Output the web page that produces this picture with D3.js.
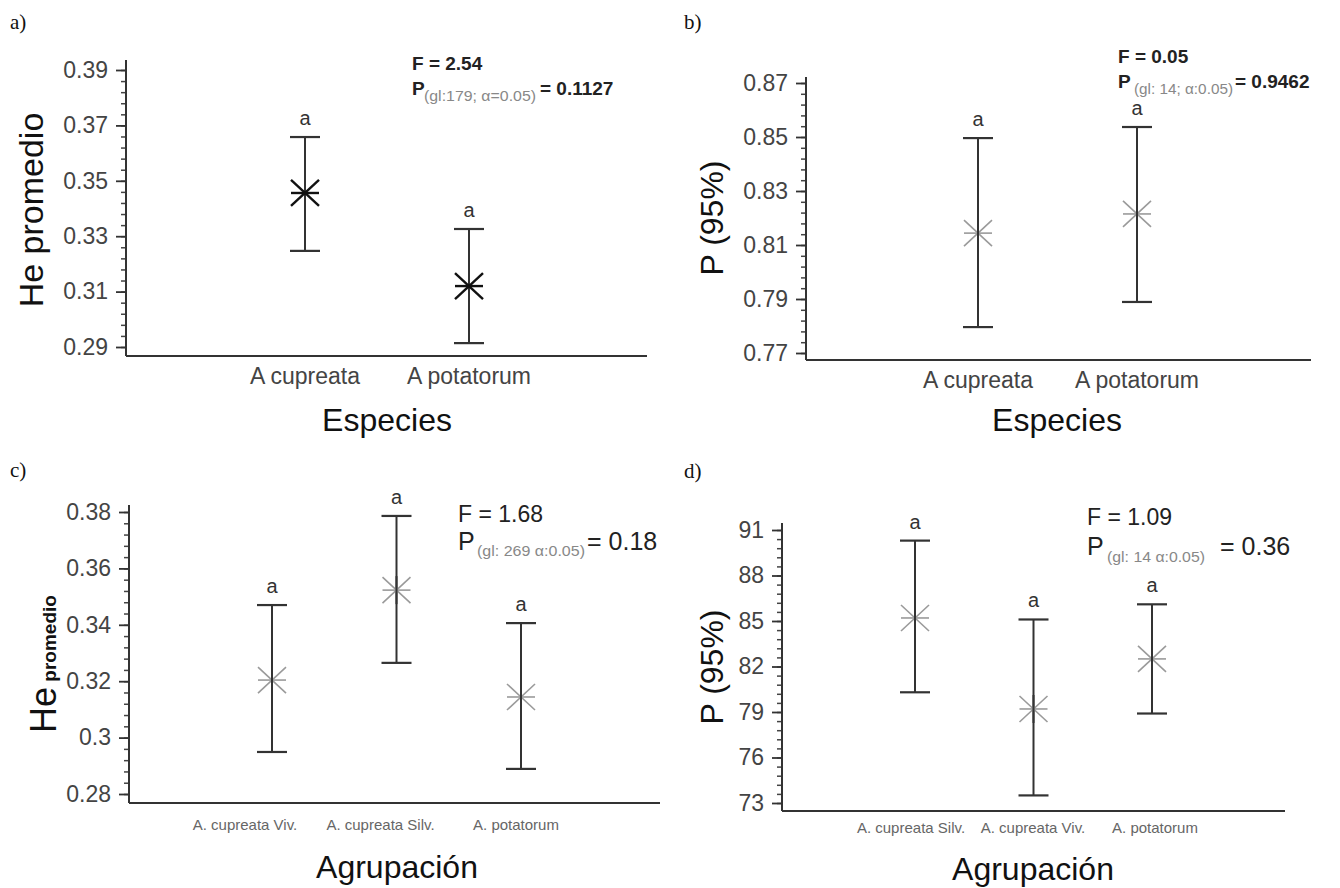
<!DOCTYPE html>
<html>
<head>
<meta charset="utf-8">
<script src="https://cdn.jsdelivr.net/npm/d3@7"></script>
<style>
  body { margin: 0; background: #fff; }
  text { font-family: 'Liberation Sans', Arial, sans-serif; }
</style>
</head>
<body>
<script>
var WIDTH = 1340, HEIGHT = 888;

// a) He promedio por especie
var speciesA = ['A cupreata', 'A potatorum'];
var heMeanA = [0.3456, 0.3120];
var heLowA = [0.3247, 0.2914];
var heHighA = [0.3658, 0.3326];
var lettersA = ['a', 'a'];
var ticksA = [0.29, 0.31, 0.33, 0.35, 0.37, 0.39];

// b) P (95%) por especie
var speciesB = ['A cupreata', 'A potatorum'];
var pMeanB = [0.8144, 0.8215];
var pLowB = [0.7796, 0.7889];
var pHighB = [0.8496, 0.8537];
var lettersB = ['a', 'a'];
var ticksB = [0.77, 0.79, 0.81, 0.83, 0.85, 0.87];

// c) He promedio por agrupacion
var groupsC = ['A. cupreata Viv.', 'A. cupreata Silv.', 'A. potatorum'];
var heMeanC = [0.3204, 0.3523, 0.3144];
var heLowC = [0.2949, 0.3265, 0.2889];
var heHighC = [0.3470, 0.3786, 0.3406];
var lettersC = ['a', 'a', 'a'];
var ticksC = [0.28, 0.3, 0.32, 0.34, 0.36, 0.38];

// d) P (95%) por agrupacion
var groupsD = ['A. cupreata Silv.', 'A. cupreata Viv.', 'A. potatorum'];
var pMeanD = [85.2, 79.2, 82.5];
var pLowD = [80.3, 73.5, 78.9];
var pHighD = [90.3, 85.1, 86.1];
var lettersD = ['a', 'a', 'a'];
var ticksD = [73, 76, 79, 82, 85, 88, 91];

var panels = [
  {
    tag: 'a)', tagX: 10, tagY: 29,
    cats: speciesA, mean: heMeanA, low: heLowA, high: heHighA, letters: lettersA, ticks: ticksA, minorStep: 0.004,
    x0: 126, x1: 647, yTop: 60, yBase: 356, yRange: [347, 70],
    barRange: [305, 469], labelRange: [305, 469], catSize: 23, catColor: '#444', catY: 384,
    dark: true,
    xTitle: 'Especies', xTitleX: 387, xTitleY: 431,
    yTitle: [{t: 'He promedio', size: 34, weight: 'normal'}], yTitleX: 43, yTitleY: 210, yTitleAnchor: 'middle',
    fText: 'F = 2.54', fX: 412, fY: 70, fSize: 19, fWeight: 'bold',
    pX: 412, pY: 95, pSize: 19, subText: '(gl:179; \u03b1=0.05)', subX: 424, subY: 101, subSize: 15, subW: 112,
    valText: '=  0.1127', valX: 540, valWeight: 'bold'
  },
  {
    tag: 'b)', tagX: 684, tagY: 29,
    cats: speciesB, mean: pMeanB, low: pLowB, high: pHighB, letters: lettersB, ticks: ticksB, minorStep: 0.004,
    x0: 806, x1: 1311, yTop: 77, yBase: 360, yRange: [353, 83],
    barRange: [978, 1137], labelRange: [978, 1137], catSize: 23, catColor: '#444', catY: 388,
    dark: false,
    xTitle: 'Especies', xTitleX: 1057, xTitleY: 431,
    yTitle: [{t: 'P (95%)', size: 32, weight: 'normal'}], yTitleX: 723, yTitleY: 218, yTitleAnchor: 'middle',
    fText: 'F = 0.05', fX: 1118, fY: 63, fSize: 19, fWeight: 'bold',
    pX: 1118, pY: 88, pSize: 19, subText: '(gl: 14; \u03b1:0.05)', subX: 1134, subY: 94, subSize: 15, subW: 99,
    valText: '= 0.9462', valX: 1235, valWeight: 'bold'
  },
  {
    tag: 'c)', tagX: 10, tagY: 477,
    cats: groupsC, mean: heMeanC, low: heLowC, high: heHighC, letters: lettersC, ticks: ticksC, minorStep: 0.004,
    x0: 129, x1: 660, yTop: 505, yBase: 803, yRange: [794, 512],
    barRange: [272, 521], labelRange: [245, 516], catSize: 15, catColor: '#666', catY: 830,
    dark: false,
    xTitle: 'Agrupación', xTitleX: 397, xTitleY: 878,
    yTitle: [{t: 'He', size: 36, weight: 'normal'}, {t: ' promedio', size: 19, weight: 'bold'}],
    yTitleX: 56, yTitleY: 733, yTitleAnchor: 'start',
    fText: 'F = 1.68', fX: 458, fY: 522, fSize: 23, fWeight: 'normal',
    pX: 458, pY: 550, pSize: 25, subText: '(gl: 269 \u03b1:0.05)', subX: 477, subY: 556, subSize: 15, subW: 108,
    valText: '= 0.18', valX: 587, valWeight: 'normal'
  },
  {
    tag: 'd)', tagX: 684, tagY: 478,
    cats: groupsD, mean: pMeanD, low: pLowD, high: pHighD, letters: lettersD, ticks: ticksD, minorStep: 0.6,
    x0: 782, x1: 1285, yTop: 523, yBase: 811, yRange: [803, 530],
    barRange: [915, 1152], labelRange: [911, 1155], catSize: 15, catColor: '#666', catY: 833,
    dark: false,
    xTitle: 'Agrupación', xTitleX: 1033, xTitleY: 880,
    yTitle: [{t: 'P (95%)', size: 32, weight: 'normal'}], yTitleX: 723, yTitleY: 667, yTitleAnchor: 'middle',
    fText: 'F = 1.09', fX: 1087, fY: 525, fSize: 23, fWeight: 'normal',
    pX: 1087, pY: 555, pSize: 25, subText: '(gl: 14 \u03b1:0.05)', subX: 1107, subY: 562, subSize: 15, subW: 98,
    valText: '= 0.36', valX: 1220, valWeight: 'normal'
  }
];

var svg = d3.select('body').append('svg').attr('width', WIDTH).attr('height', HEIGHT);

panels.forEach(drawPanel);

function drawPanel(p) {
  var g = svg.append('g');
  var lo = p.ticks[0], hi = p.ticks[p.ticks.length - 1];
  var y = d3.scaleLinear().domain([lo, hi]).range(p.yRange);
  var x = d3.scalePoint().domain(p.cats).range(p.barRange);
  var xl = d3.scalePoint().domain(p.cats).range(p.labelRange);

  // panel tag
  g.append('text')
    .attr('x', p.tagX).attr('y', p.tagY)
    .style('font-family', "'Liberation Serif', 'Times New Roman', serif")
    .attr('font-size', 21).attr('fill', '#111')
    .text(p.tag);

  // minor ticks
  var minor = d3.range(lo, hi + p.minorStep / 2, p.minorStep);
  var minorAxis = g.append('g').attr('transform', 'translate(' + p.x0 + ',0)')
    .call(d3.axisLeft(y).tickValues(minor).tickSize(5).tickFormat(''));
  minorAxis.select('.domain').remove();
  minorAxis.selectAll('line').attr('stroke', '#444').attr('stroke-width', 1.5);

  // major ticks + labels
  var yAxis = g.append('g').attr('transform', 'translate(' + p.x0 + ',0)')
    .call(d3.axisLeft(y).tickValues(p.ticks).tickSize(10).tickPadding(8).tickFormat(String));
  yAxis.select('.domain').remove();
  yAxis.selectAll('line').attr('stroke', '#333').attr('stroke-width', 1.8);
  yAxis.selectAll('text')
    .style('font-family', "'Liberation Sans', Arial, sans-serif")
    .attr('font-size', 23).attr('fill', '#444');

  // axis lines
  g.append('line')
    .attr('x1', p.x0).attr('x2', p.x0).attr('y1', p.yTop).attr('y2', p.yBase)
    .attr('stroke', '#333').attr('stroke-width', 2);
  g.append('line')
    .attr('x1', p.x0).attr('x2', p.x1).attr('y1', p.yBase).attr('y2', p.yBase)
    .attr('stroke', '#333').attr('stroke-width', 2.2);

  // category labels
  g.selectAll('text.cat').data(p.cats).enter().append('text')
    .attr('class', 'cat')
    .attr('x', function (d) { return xl(d); })
    .attr('y', p.catY)
    .attr('text-anchor', 'middle')
    .attr('font-size', p.catSize)
    .attr('fill', p.catColor)
    .text(function (d) { return d; });

  var idx = d3.range(p.cats.length);

  // error bars
  var bars = g.selectAll('g.bar').data(idx).enter().append('g').attr('class', 'bar');
  bars.append('line')
    .attr('x1', function (i) { return x(p.cats[i]); })
    .attr('x2', function (i) { return x(p.cats[i]); })
    .attr('y1', function (i) { return y(p.low[i]); })
    .attr('y2', function (i) { return y(p.high[i]); })
    .attr('stroke', '#333').attr('stroke-width', 2);
  [p.low, p.high].forEach(function (arr) {
    bars.append('line')
      .attr('x1', function (i) { return x(p.cats[i]) - 15; })
      .attr('x2', function (i) { return x(p.cats[i]) + 15; })
      .attr('y1', function (i) { return y(arr[i]); })
      .attr('y2', function (i) { return y(arr[i]); })
      .attr('stroke', '#333').attr('stroke-width', 2.2);
  });

  // asterisk markers at the mean
  var mColor = p.dark ? '#111' : '#9a9a9a';
  var mWidth = p.dark ? 2.4 : 1.6;
  [[-14, 0, 14, 0], [-14, -13, 14, 13], [-14, 13, 14, -13]].forEach(function (s) {
    bars.append('line')
      .attr('x1', function (i) { return x(p.cats[i]) + s[0]; })
      .attr('x2', function (i) { return x(p.cats[i]) + s[2]; })
      .attr('y1', function (i) { return y(p.mean[i]) + s[1]; })
      .attr('y2', function (i) { return y(p.mean[i]) + s[3]; })
      .attr('stroke', mColor).attr('stroke-width', mWidth);
  });
  if (!p.dark) {
    bars.append('line')
      .attr('x1', function (i) { return x(p.cats[i]); })
      .attr('x2', function (i) { return x(p.cats[i]); })
      .attr('y1', function (i) { return y(p.mean[i]) - 14; })
      .attr('y2', function (i) { return y(p.mean[i]) + 14; })
      .attr('stroke', '#333').attr('stroke-width', 2);
  }

  // significance letters
  bars.append('text')
    .attr('x', function (i) { return x(p.cats[i]); })
    .attr('y', function (i) { return y(p.high[i]) - 12; })
    .attr('text-anchor', 'middle')
    .attr('font-size', 20).attr('fill', '#333')
    .text(function (i) { return p.letters[i]; });

  // axis titles
  g.append('text')
    .attr('x', p.xTitleX).attr('y', p.xTitleY)
    .attr('text-anchor', 'middle')
    .attr('font-size', 32).attr('fill', '#111')
    .text(p.xTitle);

  var yt = g.append('text')
    .attr('transform', 'translate(' + p.yTitleX + ',' + p.yTitleY + ') rotate(-90)')
    .attr('text-anchor', p.yTitleAnchor)
    .attr('fill', '#111');
  p.yTitle.forEach(function (part) {
    yt.append('tspan')
      .attr('font-size', part.size)
      .attr('font-weight', part.weight)
      .text(part.t);
  });

  // ANOVA annotation
  g.append('text')
    .attr('x', p.fX).attr('y', p.fY)
    .attr('font-size', p.fSize).attr('font-weight', p.fWeight).attr('fill', '#222')
    .text(p.fText);
  g.append('text')
    .attr('x', p.pX).attr('y', p.pY)
    .attr('font-size', p.pSize).attr('font-weight', p.fWeight).attr('fill', '#222')
    .text('P');
  g.append('text')
    .attr('x', p.subX).attr('y', p.subY)
    .attr('font-size', p.subSize).attr('fill', '#888')
    .attr('textLength', p.subW).attr('lengthAdjust', 'spacingAndGlyphs')
    .text(p.subText);
  g.append('text')
    .attr('x', p.valX).attr('y', p.pY)
    .attr('font-size', p.pSize).attr('font-weight', p.valWeight).attr('fill', '#222')
    .text(p.valText);
}
</script>
</body>
</html>
